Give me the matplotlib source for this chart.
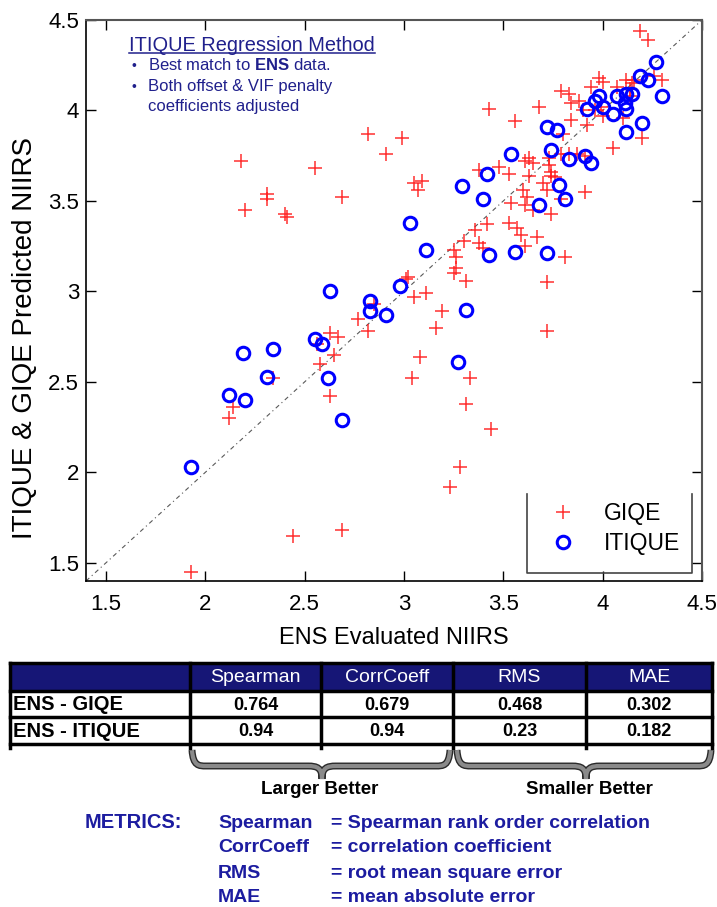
import matplotlib
matplotlib.use("Agg")

import matplotlib.pyplot as plt
import matplotlib.patheffects as pe
from matplotlib.lines import Line2D
from matplotlib.patches import Rectangle, PathPatch
from matplotlib.path import Path

plt.rcParams['font.family'] = ['Liberation Sans', 'DejaVu Sans']
plt.rcParams['mathtext.fontset'] = 'custom'
plt.rcParams['mathtext.rm'] = 'Liberation Sans'
plt.rcParams['mathtext.bf'] = 'Liberation Sans:bold'

# ---------------------------------------------------------------- data
giqe_x = [2.82, 2.91, 2.18, 2.55, 2.31, 2.31, 2.69, 2.20, 2.40, 2.41, 2.99,
          3.43, 3.68, 3.56,
          3.79, 3.83, 3.88, 3.84, 3.98, 4.00, 3.94, 3.99, 3.90, 3.96, 4.00,
          4.07, 4.12, 4.15, 4.16, 4.14, 4.14, 4.10, 4.26, 4.30, 4.19, 4.23,
          4.20, 4.05, 3.84, 3.92, 3.80,
          3.79, 3.83, 3.87, 3.91, 3.63, 3.61, 3.65, 3.73, 3.73, 3.74, 3.74,
          3.76, 3.48, 3.38, 3.53, 3.63, 3.05, 3.09, 3.07, 3.70, 3.72, 3.79,
          3.91, 3.60, 3.62, 3.61, 3.54, 3.65, 3.74, 3.42, 3.36, 3.53, 3.57,
          3.59, 3.67, 3.30, 3.38, 3.40, 3.61, 3.25, 3.26, 3.26, 3.25, 3.31,
          3.81, 3.72, 3.02, 3.01, 3.05, 3.11,
          3.19, 3.16, 3.72, 3.08, 3.04, 3.33, 3.31, 3.44, 3.28, 3.23,
          2.85, 2.77, 2.82, 2.63, 2.67, 2.56, 2.65, 2.58, 2.63, 2.34, 2.14,
          2.12, 2.44, 2.69, 1.93]
giqe_y = [3.87, 3.76, 3.72, 3.68, 3.54, 3.51, 3.52, 3.45, 3.43, 3.41, 3.85,
          4.01, 4.02, 3.94,
          4.11, 4.09, 4.05, 4.04, 4.18, 4.16, 4.13, 4.02, 4.00, 4.00, 3.97,
          4.13, 4.17, 4.15, 4.17, 4.12, 4.08, 3.96, 4.19, 4.17, 4.44, 4.39,
          3.85, 3.79, 3.95, 3.92, 3.87,
          3.76, 3.76, 3.76, 3.75, 3.74, 3.72, 3.71, 3.74, 3.70, 3.66, 3.64,
          3.63, 3.69, 3.67, 3.65, 3.64, 3.60, 3.61, 3.56, 3.60, 3.56, 3.51,
          3.55, 3.56, 3.52, 3.48, 3.49, 3.45, 3.43, 3.37, 3.34, 3.38, 3.35,
          3.31, 3.30, 3.28, 3.27, 3.24, 3.25, 3.23, 3.19, 3.13, 3.10, 3.06,
          3.19, 3.05, 3.08, 3.07, 2.97, 2.99,
          2.89, 2.80, 2.78, 2.64, 2.52, 2.52, 2.38, 2.24, 2.03, 1.92,
          2.93, 2.85, 2.78, 2.77, 2.75, 2.71, 2.65, 2.60, 2.42, 2.52, 2.36,
          2.30, 1.65, 1.68, 1.45]

itique_x = [4.27, 4.19, 4.23, 4.30, 3.98, 3.96, 3.92, 4.00, 4.05, 4.07,
            4.12, 4.15, 4.11, 4.12, 4.20, 4.12, 3.77, 3.72, 3.74, 3.83,
            3.91, 3.94, 3.54, 3.42, 3.78, 3.29, 3.40, 3.81, 3.68, 3.03,
            3.11, 3.43, 3.56, 3.72, 2.98, 2.63, 2.83, 2.83, 2.91, 3.31,
            2.55, 2.59, 2.19, 2.34, 2.31, 2.62, 2.12, 2.20, 2.69, 3.27, 1.93]
itique_y = [4.27, 4.19, 4.17, 4.08, 4.08, 4.05, 4.01, 4.02, 3.98, 4.08,
            4.09, 4.09, 4.04, 4.01, 3.93, 3.88, 3.89, 3.91, 3.78, 3.73,
            3.75, 3.71, 3.76, 3.65, 3.59, 3.58, 3.51, 3.51, 3.48, 3.38,
            3.23, 3.20, 3.22, 3.21, 3.03, 3.00, 2.95, 2.89, 2.87, 2.90,
            2.74, 2.71, 2.66, 2.68, 2.53, 2.52, 2.43, 2.40, 2.29, 2.61, 2.03]

ticks = [1.5, 2, 2.5, 3, 3.5, 4, 4.5]
tick_labels = ['1.5', '2', '2.5', '3', '3.5', '4', '4.5']

table_cols = ['Spearman', 'CorrCoeff', 'RMS', 'MAE']
table_rows = ['ENS - GIQE', 'ENS - ITIQUE']
table_vals = [['0.764', '0.679', '0.468', '0.302'],
              ['0.94', '0.94', '0.23', '0.182']]

metric_names = ['Spearman', 'CorrCoeff', 'RMS', 'MAE']
metric_desc = ['= Spearman rank order correlation',
               '= correlation coefficient',
               '= root mean square error',
               '= mean absolute error']

bullets = [r'Best match to $\mathbf{ENS}$ data.',
           'Both offset & VIF penalty']
bullet_cont = 'coefficients adjusted'

navy = '#20208c'
blue_txt = '#1c1ca0'

# ---------------------------------------------------------------- figure
W, H = 717, 907
fig = plt.figure(figsize=(W / 100, H / 100), dpi=100)

ax = fig.add_axes([86 / W, 1 - 581 / H, (702 - 86) / W, (581 - 20) / H])

ax.plot(giqe_x, giqe_y, linestyle='none', marker='+', markersize=10,
        markeredgewidth=1.1, color='#ff1a1a', alpha=0.9, label='GIQE')
ax.plot(itique_x, itique_y, linestyle='none', marker='o', markersize=9,
        markerfacecolor='none', markeredgewidth=2.2, color='#0000ff',
        label='ITIQUE')
ax.axline((0, 0), slope=1, color='0.35', lw=0.8,
          linestyle=(0, (4, 3, 1, 3)), zorder=1)

ax.set_xlim(1.4, 4.5)
ax.set_ylim(1.4, 4.5)
ax.set_xticks(ticks)
ax.set_xticklabels(tick_labels)
ax.set_yticks(ticks)
ax.set_yticklabels(tick_labels)
ax.tick_params(direction='in', length=7, width=1, top=True, right=True,
               labelsize=16)
ax.tick_params(axis='x', pad=9)
ax.tick_params(axis='y', pad=5)
for side in ['left', 'bottom']:
    ax.spines[side].set_linewidth(1.2)
for side in ['top', 'right']:
    ax.spines[side].set_color('#555555')
    ax.spines[side].set_linewidth(1.5)

ax.set_xlabel('ENS Evaluated NIIRS', fontsize=17)
ax.xaxis.set_label_coords(0.5, -(627 - 581) / 561)
ax.set_ylabel('ITIQUE & GIQE Predicted NIIRS', fontsize=20)
ax.yaxis.set_label_coords((38 - 86) / 616, (581 - 338) / 561)

leg = ax.legend(frameon=False, fontsize=16.5, handlelength=2,
                handletextpad=0.8, labelspacing=0.3, borderpad=0,
                borderaxespad=0, loc='upper left',
                bbox_to_anchor=(540 / W, 1 - 502 / H),
                bbox_transform=fig.transFigure)

# overlay in pixel coordinates for the annotations and table
lay = fig.add_axes([0, 0, 1, 1])
lay.set_xlim(0, W)
lay.set_ylim(H, 0)
lay.axis('off')

# legend frame (open at the top)
lay.plot([527, 527, 692, 692], [494, 573, 573, 494], color='#444444', lw=1.2)

# method note
title = lay.text(129, 51, 'ITIQUE Regression Method', fontsize=14.4,
                 color=navy, va='baseline')
for i, line in enumerate(bullets):
    yb = 70 + i * 21
    lay.text(131, yb, '\u2022', fontsize=10, color=navy, va='baseline')
    lay.text(148, yb, line, fontsize=12, color=navy, va='baseline')
lay.text(148, 111, bullet_cont, fontsize=12, color=navy, va='baseline')

fig.canvas.draw()
bb = title.get_window_extent()
lay.plot([bb.x0, bb.x1], [53, 53], color=navy, lw=1.1)

# table
col_edges = [10, 190, 321, 453, 586, 712]
row_edges = [663, 691, 717, 744]
lay.add_patch(Rectangle((col_edges[0], row_edges[0]),
                        col_edges[-1] - col_edges[0],
                        row_edges[1] - row_edges[0],
                        facecolor='#161676', edgecolor='none'))
for x in col_edges:
    lay.plot([x, x], [row_edges[0], row_edges[-1] + 4], color='k', lw=2.5)
for y in row_edges:
    lay.plot([col_edges[0], col_edges[-1]], [y, y], color='k', lw=2.5)
for j, name in enumerate(table_cols):
    cx = (col_edges[j + 1] + col_edges[j + 2]) / 2
    lay.text(cx, (row_edges[0] + row_edges[1]) / 2 + 1, name, fontsize=14,
             color='white', ha='center', va='center')
for i, rname in enumerate(table_rows):
    cy = (row_edges[i + 1] + row_edges[i + 2]) / 2 + 1
    lay.text(col_edges[0] + 3, cy, rname, fontsize=14.5, fontweight='bold',
             ha='left', va='center')
    for j, v in enumerate(table_vals[i]):
        cx = (col_edges[j + 1] + col_edges[j + 2]) / 2
        lay.text(cx, cy, v, fontsize=13, fontweight='bold',
                 ha='center', va='center')


def brace(x0, x1, xm, y0, y1, y2, r=14):
    verts = [(x0, y0), (x0 + 1, y1), (x0 + r / 2, y1), (x0 + r, y1),
             (xm - r, y1),
             (xm - r / 3, y1), (xm, y1 + 2), (xm, y2),
             (xm, y1 + 2), (xm + r / 3, y1), (xm + r, y1),
             (x1 - r, y1),
             (x1 - r / 2, y1), (x1 - 1, y1), (x1, y0)]
    codes = ([Path.MOVETO] + [Path.CURVE4] * 3 + [Path.LINETO]
             + [Path.CURVE4] * 6 + [Path.LINETO] + [Path.CURVE4] * 3)
    return Path(verts, codes)


for (x0, x1, xm) in [(192, 450, 322), (457, 711, 586)]:
    patch = PathPatch(brace(x0, x1, xm, 750, 766, 779), facecolor='none',
                      edgecolor='#8a8a8a', lw=3,
                      path_effects=[pe.Stroke(linewidth=5, foreground='#2a2a2a'),
                                    pe.Normal()])
    lay.add_patch(patch)

lay.text(320, 790, 'Larger Better', fontsize=13.5, fontweight='bold',
         ha='center', va='center')
lay.text(589, 790, 'Smaller Better', fontsize=13.5, fontweight='bold',
         ha='center', va='center')

# metrics legend
lay.text(85, 823, 'METRICS:', fontsize=14.5, fontweight='bold',
         color=blue_txt, va='center')
for i, (name, desc) in enumerate(zip(metric_names, metric_desc)):
    y = 823 + i * 25
    lay.text(218, y, name, fontsize=14, fontweight='bold', color=blue_txt,
             va='center')
    lay.text(331, y, desc, fontsize=14, fontweight='bold', color=blue_txt,
             va='center')

fig.savefig('out.png', dpi=100)
